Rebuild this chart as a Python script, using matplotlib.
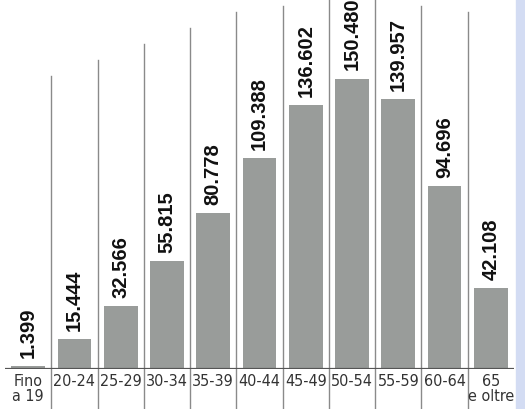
import numpy as np
import matplotlib.pyplot as plt
from matplotlib.patches import Rectangle

# age classes and values (thousands)
age_labels = ["Fino\na 19", "20-24", "25-29", "30-34", "35-39", "40-44",
              "45-49", "50-54", "55-59", "60-64", "65\ne oltre"]
values = [1.399, 15.444, 32.566, 55.815, 80.778, 109.388,
          136.602, 150.480, 139.957, 94.696, 42.108]

W, H = 525, 410
px_per_unit = 1.929
base_px = 370  # baseline, pixels from top

fig = plt.figure(figsize=(W / 100, H / 100), dpi=100)
fig.patch.set_facecolor("white")
left, right = 5, 514
ax = fig.add_axes([left / W, (H - base_px) / H, (right - left) / W, base_px / H])
ax.set_xlim(-0.5, len(values) - 0.5)
ax.set_ylim(0, base_px / px_per_unit)
ax.set_facecolor("none")

x = np.arange(len(values))
ax.bar(x, values, width=0.73, color="#999c9a", zorder=2)

# rotated value labels above the bars
for xi, v in zip(x, values):
    ax.text(xi, v + 4.8, f"{v:.3f}", rotation=90, ha="center", va="bottom",
            fontsize=14.5, fontweight="bold", family="Liberation Sans", color="#111111")

# staircase separators between columns
sep_tops_px = [77, 61, 45, 29, 13, 7, 0, 0, 7, 13]
y_bottom = -(H - base_px) / px_per_unit
for i, top in enumerate(sep_tops_px):
    ax.plot([i + 0.5, i + 0.5], [y_bottom, (base_px - top) / px_per_unit],
            color="#8a8a8a", lw=1.0, clip_on=False, zorder=1)

ax.axhline(0, color="#555555", lw=1.6, zorder=3)

ax.set_xticks(x)
ax.set_xticklabels(age_labels, family="DejaVu Sans", fontstretch="condensed",
                   fontsize=11.5, color="#333333", linespacing=0.95)
ax.tick_params(axis="x", length=0, pad=3)
ax.set_yticks([])
for s in ax.spines.values():
    s.set_visible(False)

# light blue strip on the right edge
fig.patches.append(Rectangle((516 / W, 0), 1, 1, transform=fig.transFigure,
                             color="#d3dcf3", zorder=0))

fig.savefig("out.png", dpi=100)
